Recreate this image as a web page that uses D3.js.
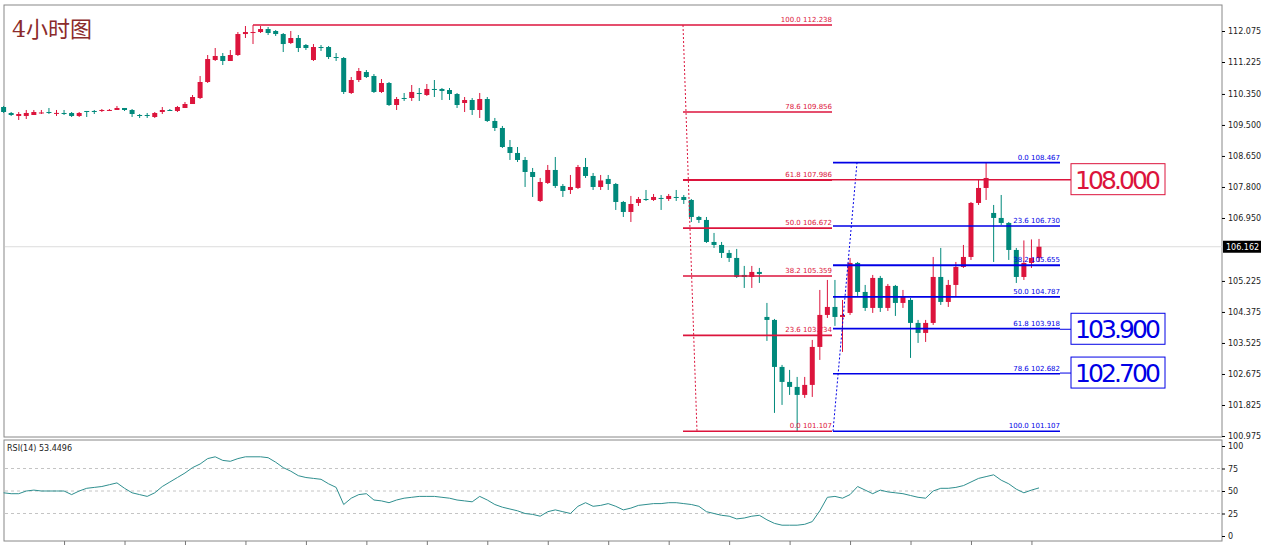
<!DOCTYPE html>
<html lang="zh">
<head>
<meta charset="UTF-8">
<title>4小时图</title>
<script src="https://d3js.org/d3.v7.min.js"></script>
<style>
  body { margin: 0; background: #fff; }
  svg text { font-family: "DejaVu Sans", sans-serif; }
</style>
</head>
<body>
<svg id="chart" width="1280" height="545"></svg>
<script>
// OHLC, 4h candles
const opens = [109.992,109.828,109.746,109.746,109.773,109.828,109.855,109.828,109.828,109.828,109.746,109.883,109.883,109.883,109.910,109.910,109.965,109.910,109.773,109.773,
109.718,109.855,109.910,109.883,109.965,110.074,110.239,110.677,111.280,111.390,111.253,111.417,111.992,112.020,112.047,112.129,112.075,111.992,111.746,111.883,
111.691,111.280,111.636,111.636,111.362,111.335,110.376,110.732,110.951,110.842,110.404,110.650,110.047,110.239,110.239,110.376,110.321,110.486,110.486,110.458,
110.348,110.102,110.184,109.910,110.211,109.609,109.417,108.896,108.732,108.540,108.211,107.417,107.910,108.266,107.828,107.718,107.773,108.348,108.102,107.800,
108.020,107.882,107.389,107.115,107.362,107.471,107.444,107.499,107.471,107.526,107.526,107.444,106.978,106.896,106.293,106.211,105.992,105.855,105.389,105.334,
105.471,104.238,104.156,102.868,102.457,102.320,102.101,102.375,103.416,104.293,104.512,104.238,104.348,105.718,104.923,104.485,105.307,104.485,105.088,104.622,
104.704,104.074,103.800,104.074,105.334,104.649,105.115,105.608,105.882,107.362,107.773,107.088,106.951,106.814,106.074,105.334,105.718,105.855];
const highs = [110.020,109.855,109.855,109.910,109.910,109.910,109.965,109.910,109.910,109.855,109.855,109.883,109.910,109.937,109.937,110.020,109.965,109.937,109.800,109.828,
109.855,109.992,109.937,110.020,110.129,110.321,110.842,111.417,111.609,111.472,111.554,112.047,112.212,112.238,112.212,112.184,112.102,112.020,112.075,111.965,
111.718,111.718,111.691,111.664,111.472,111.362,110.814,111.061,111.006,110.896,110.759,110.677,110.266,110.376,110.595,110.513,110.622,110.732,110.513,110.513,
110.376,110.266,110.239,110.376,110.266,109.691,109.472,109.088,108.896,108.622,108.321,108.047,108.403,108.622,107.882,108.129,108.403,108.595,108.184,108.129,
108.129,107.910,107.417,107.554,107.526,107.718,107.608,107.581,107.608,107.718,107.581,107.471,107.006,106.978,106.540,106.293,106.074,106.102,105.636,105.636,
105.581,104.622,104.183,102.923,102.786,102.594,102.594,103.608,104.978,105.252,105.252,104.704,105.855,105.745,105.115,105.389,105.362,105.142,105.115,104.978,
104.759,104.156,104.156,105.882,106.129,105.252,105.745,106.211,107.389,107.992,108.467,107.307,107.581,106.841,106.129,106.335,106.362,106.376];
const lows = [109.828,109.746,109.636,109.663,109.773,109.800,109.800,109.746,109.773,109.718,109.718,109.718,109.800,109.855,109.883,109.910,109.883,109.718,109.691,109.691,
109.691,109.800,109.883,109.855,109.965,110.074,110.211,110.650,111.253,111.143,111.280,111.390,111.883,111.718,112.020,111.965,111.938,111.499,111.718,111.499,
111.554,111.253,111.527,111.307,111.253,110.348,110.348,110.677,110.787,110.376,110.376,110.020,109.910,110.157,110.157,110.157,110.294,110.266,110.184,110.184,
109.965,109.855,109.773,109.691,109.581,109.334,108.869,108.540,108.485,107.800,107.526,107.389,107.882,107.773,107.526,107.608,107.745,108.047,107.718,107.718,
107.718,107.170,106.978,106.841,107.280,107.417,107.417,107.170,107.417,107.417,107.334,106.841,106.814,106.266,106.129,105.855,105.745,105.307,105.033,105.033,
105.170,103.581,101.608,101.827,102.101,101.107,102.019,102.046,103.060,104.211,103.992,103.279,104.293,104.814,104.403,104.348,104.375,104.403,104.266,104.485,
103.115,103.526,103.553,104.019,104.567,104.512,104.786,105.581,105.800,107.307,107.444,105.745,106.759,105.800,105.170,105.252,105.581,105.745];
const closes = [109.855,109.773,109.800,109.828,109.855,109.842,109.828,109.830,109.826,109.746,109.828,109.855,109.882,109.910,109.911,109.965,109.910,109.800,109.772,109.746,
109.828,109.910,109.909,109.992,110.074,110.266,110.677,111.307,111.390,111.253,111.417,111.992,112.047,112.047,112.129,112.020,111.992,111.718,111.883,111.609,
111.609,111.636,111.635,111.362,111.361,110.404,110.732,110.979,110.814,110.404,110.650,110.047,110.211,110.238,110.404,110.375,110.486,110.485,110.431,110.348,
110.047,110.184,109.910,110.211,109.609,109.417,108.896,108.732,108.540,108.211,108.074,107.937,108.266,107.828,107.691,107.800,108.348,108.102,107.800,107.979,
107.882,107.389,107.115,107.334,107.471,107.470,107.526,107.498,107.554,107.499,107.444,106.978,106.896,106.293,106.211,105.992,105.855,105.334,105.333,105.471,
105.416,104.156,102.868,102.457,102.320,102.101,102.375,103.416,104.293,104.512,104.238,104.293,105.718,104.923,104.485,105.307,104.485,105.088,104.622,104.786,
104.074,103.800,104.074,105.334,104.649,105.115,105.608,105.882,107.362,107.773,108.047,106.951,106.814,106.074,105.334,105.718,105.855,106.162];
const rsi = [48,47,47,50,51,50,50,50,50,46,50,53,54,55,57,59,53,48,46,44,
48,55,60,65,70,76,80,86,88,84,83,86,88,88,88,87,82,76,72,67,
65,64,63,58,54,35,42,46,47,40,39,37,40,42,43,44,44,44,43,42,
40,39,38,44,40,35,32,30,28,25,24,22,27,29,27,25,33,37,33,34,
36,33,29,31,34,35,36,36,37,37,36,35,33,27,25,23,22,19,20,22,
23,18,14,12,12,12,13,16,28,43,44,42,46,55,51,47,51,49,48,47,
45,43,42,50,53,53,54,56,60,64,66,68,62,58,52,48,51,53.4496];

const priceTicks = [112.075,111.225,110.350,109.500,108.650,107.800,106.950,105.225,104.375,103.525,102.675,101.825,100.975];
const rsiTicks = [100,75,50,25,0];
const lastPrice = 106.162;

// Fibonacci retracements
const fibRedLevels = [100.0,78.6,61.8,50.0,38.2,23.6,0.0];
const fibRedPrices = [112.238,109.856,107.986,106.672,105.359,103.734,101.107];
const fibBlueLevels = [0.0,23.6,38.2,50.0,61.8,78.6,100.0];
const fibBluePrices = [108.467,106.730,105.655,104.787,103.918,102.682,101.107];
const keyLevels = [108.000,103.900,102.700];

const RED = "#dc143c", TEAL = "#00897b", BLUE = "#0000e6";
const svg = d3.select("#chart");
const L = 5, R = 1222, T = 5, B = 437, RT = 440, RB = 541;

const x = d3.scaleLinear().domain([0, 137]).range([3.6, 1039]);
const y = d3.scaleLinear().domain([100.975, 112.075]).range([436, 31]);
const yr = d3.scaleLinear().domain([0, 100]).range([536, 446]);

// frames
svg.append("rect").attr("x", L - 1).attr("y", T).attr("width", R - L + 1).attr("height", B - T)
  .attr("fill", "none").attr("stroke", "#888");
svg.append("rect").attr("x", L - 1).attr("y", RT).attr("width", R - L + 1).attr("height", RB - RT)
  .attr("fill", "none").attr("stroke", "#888");

const main = svg.append("g");

// price axis
const ay = svg.append("g").attr("transform", `translate(${R},0)`)
  .call(d3.axisRight(y).tickValues(priceTicks).tickFormat(d3.format(".3f")).tickSize(3));
ay.select(".domain").remove();
ay.selectAll("text").attr("font-size", 8).attr("fill", "#222").attr("x", 6);

// current price line + label
main.append("line").attr("x1", L).attr("x2", R).attr("y1", y(lastPrice)).attr("y2", y(lastPrice))
  .attr("stroke", "#dcdcdc");
svg.append("rect").attr("x", R + 1).attr("y", y(lastPrice) - 6).attr("width", 38).attr("height", 12).attr("fill", "#000");
svg.append("text").attr("x", R + 4).attr("y", y(lastPrice) + 3).attr("font-size", 8).attr("fill", "#fff")
  .text(lastPrice.toFixed(3));

// candles
const idx = d3.range(closes.length);
main.selectAll(".wick").data(idx).join("line")
  .attr("x1", i => x(i)).attr("x2", i => x(i))
  .attr("y1", i => y(highs[i])).attr("y2", i => y(lows[i]))
  .attr("stroke", i => closes[i] >= opens[i] ? RED : TEAL).attr("stroke-width", 1);
main.selectAll(".body").data(idx).join("rect")
  .attr("x", i => x(i) - 2.5).attr("width", 5)
  .attr("y", i => y(Math.max(opens[i], closes[i])))
  .attr("height", i => Math.max(1, Math.abs(y(opens[i]) - y(closes[i]))))
  .attr("fill", i => closes[i] >= opens[i] ? RED : TEAL);

// red fib (high -> low)
const redX0 = 683, redX1 = 832;
main.append("line").attr("x1", x(33)).attr("x2", redX1).attr("y1", y(fibRedPrices[0])).attr("y2", y(fibRedPrices[0]))
  .attr("stroke", RED).attr("stroke-width", 1.6);
fibRedPrices.forEach((p, k) => {
  if (k > 0) main.append("line").attr("x1", redX0).attr("x2", redX1).attr("y1", y(p)).attr("y2", y(p))
    .attr("stroke", RED).attr("stroke-width", 1.6);
  main.append("text").attr("x", redX1).attr("y", y(p) - 3).attr("text-anchor", "end")
    .attr("font-size", 7).attr("fill", RED)
    .text(fibRedLevels[k].toFixed(1) + "  " + p.toFixed(3));
});
main.append("line").attr("x1", redX0).attr("y1", y(fibRedPrices[0]))
  .attr("x2", 697).attr("y2", y(fibRedPrices[6]))
  .attr("stroke", RED).attr("stroke-dasharray", "2,2");

// blue fib (low -> high)
const blueX0 = 833, blueX1 = 1060;
fibBluePrices.forEach((p, k) => {
  main.append("line").attr("x1", blueX0).attr("x2", blueX1).attr("y1", y(p)).attr("y2", y(p))
    .attr("stroke", BLUE).attr("stroke-width", k === 2 ? 2 : 1.6);
  main.append("text").attr("x", blueX1).attr("y", y(p) - 3).attr("text-anchor", "end")
    .attr("font-size", 7).attr("fill", BLUE)
    .text(fibBlueLevels[k].toFixed(1) + "  " + p.toFixed(3));
});
main.append("line").attr("x1", blueX0).attr("y1", y(fibBluePrices[6]))
  .attr("x2", 857).attr("y2", y(fibBluePrices[0]))
  .attr("stroke", BLUE).attr("stroke-dasharray", "2,2");

// key level boxes
keyLevels.forEach((p, k) => {
  const c = k === 0 ? RED : BLUE;
  if (k === 0) main.append("line").attr("x1", redX0).attr("x2", 1071).attr("y1", y(p)).attr("y2", y(p))
    .attr("stroke", c).attr("stroke-width", 1.6);
  else main.append("line").attr("x1", blueX1).attr("x2", 1071).attr("y1", y(p)).attr("y2", y(p))
    .attr("stroke", c);
  main.append("rect").attr("x", 1071).attr("y", y(p) - 16).attr("width", 94).attr("height", 31)
    .attr("fill", "#fff").attr("stroke", c);
  main.append("text").attr("x", 1118).attr("y", y(p) + 9).attr("text-anchor", "middle")
    .attr("font-family", "Liberation Sans, Arial, sans-serif").attr("font-size", 25)
    .attr("textLength", 86).attr("fill", c)
    .text(p.toFixed(3));
});

// title
svg.append("text").attr("x", 12).attr("y", 37).attr("font-size", 22).attr("fill", "#8b2b2b")
  .style("font-family", "'DejaVu Serif', 'Noto Sans CJK SC', serif").text("4小时图");

// RSI pane
[75, 50, 25].forEach(v => {
  svg.append("line").attr("x1", L).attr("x2", R).attr("y1", yr(v)).attr("y2", yr(v))
    .attr("stroke", "#c4c4c4").attr("stroke-dasharray", "3,3");
});
const ar = svg.append("g").attr("transform", `translate(${R},0)`)
  .call(d3.axisRight(yr).tickValues(rsiTicks).tickSize(3));
ar.select(".domain").remove();
ar.selectAll("text").attr("font-size", 8).attr("fill", "#222").attr("x", 6);
svg.append("path").datum(rsi)
  .attr("d", d3.line().x((d, i) => x(i)).y(d => yr(d)))
  .attr("fill", "none").attr("stroke", "#2f8f8f").attr("stroke-width", 1);
svg.append("text").attr("x", 7).attr("y", 451).attr("font-size", 8).attr("fill", "#222")
  .text("RSI(14) " + rsi[rsi.length - 1].toFixed(4));

// time ticks
const tAxis = svg.append("g").attr("transform", `translate(0,${RB})`)
  .call(d3.axisBottom(x).tickValues(d3.range(8, 138, 8)).tickFormat("").tickSize(4));
tAxis.select(".domain").remove();
tAxis.selectAll("line").attr("stroke", "#777");
</script>
</body>
</html>
